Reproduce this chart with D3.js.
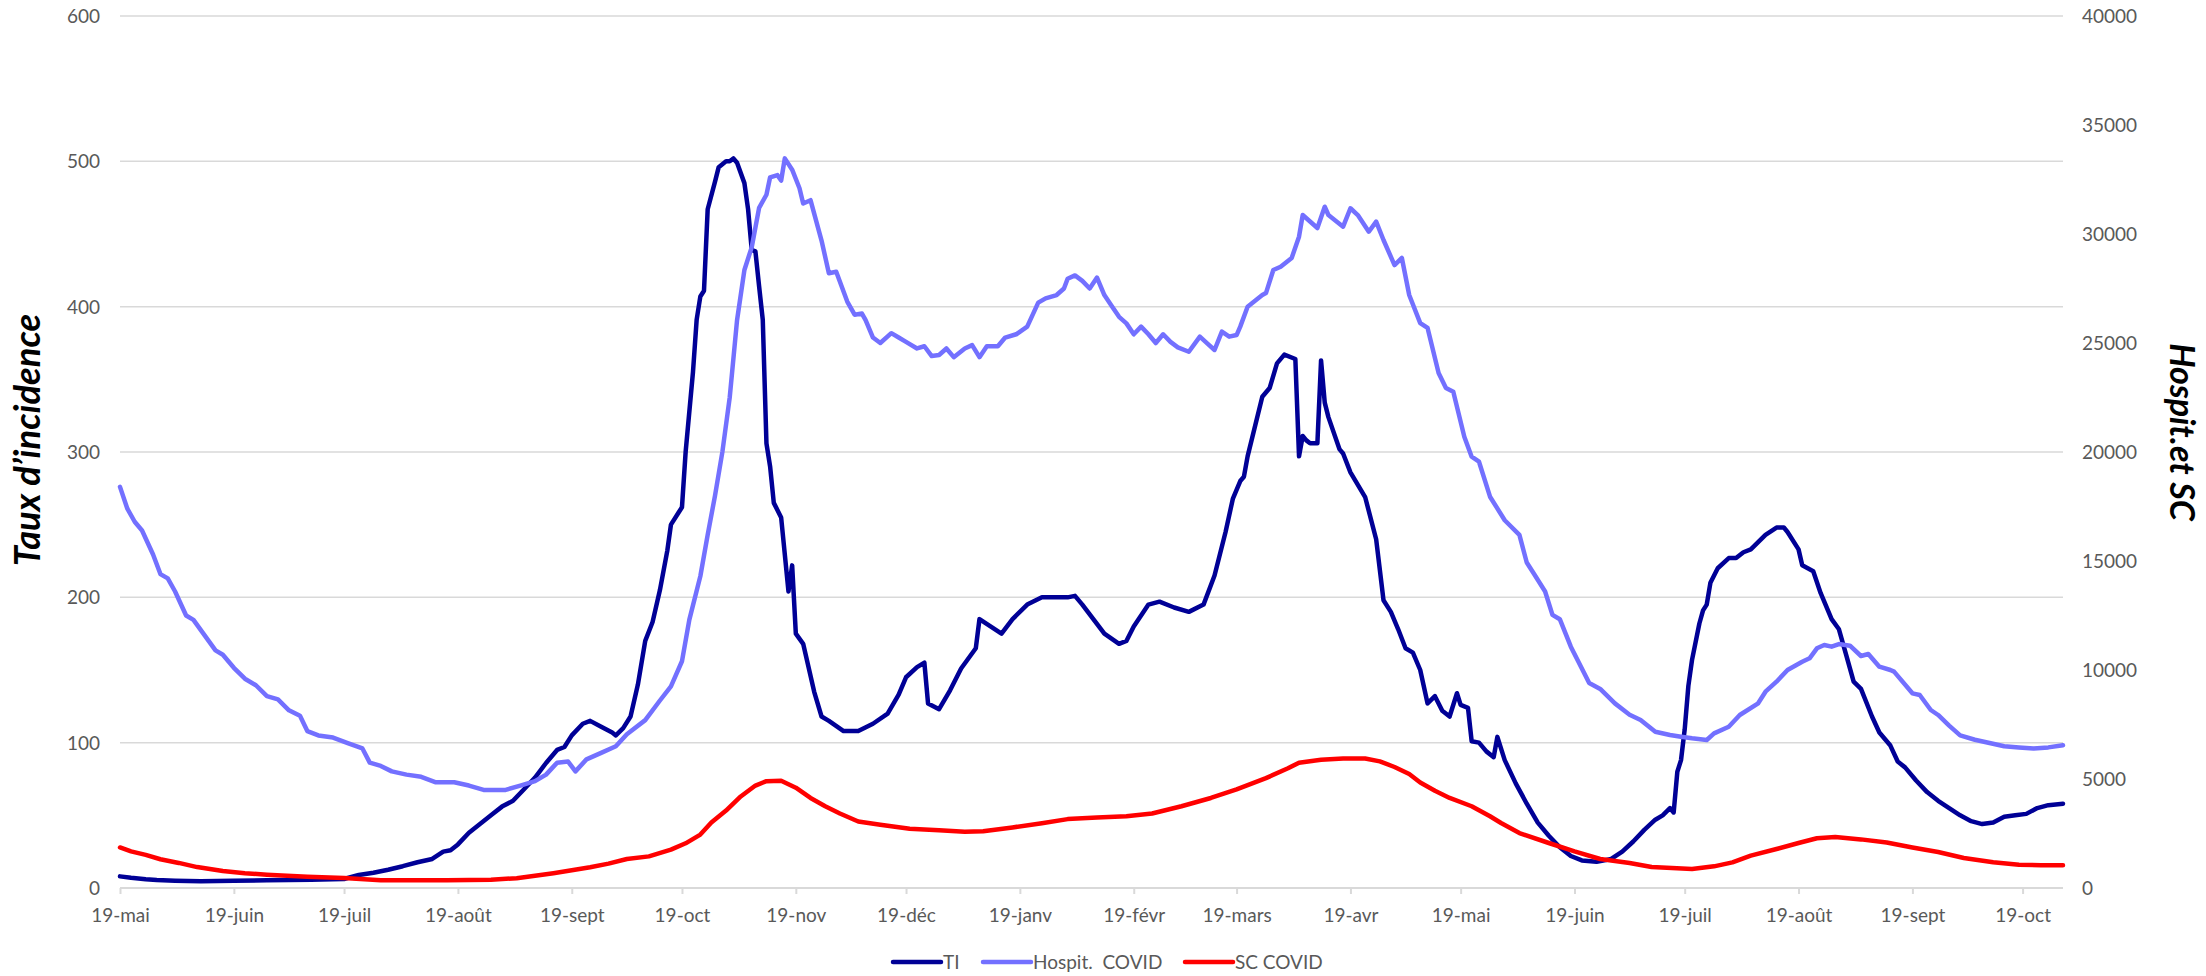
<!DOCTYPE html>
<html>
<head>
<meta charset="utf-8">
<script src="https://cdn.jsdelivr.net/npm/d3@7"></script>
<style>
  html, body { margin: 0; padding: 0; background: #ffffff; }
  svg { display: block; font-family: Lato, "Open Sans", sans-serif; }
</style>
</head>
<body>
<svg id="chart" width="2206" height="976"></svg>
<script>
// Monthly axis ticks (the 19th of each month)
const tickDates = ["2020-05-19","2020-06-19","2020-07-19","2020-08-19","2020-09-19","2020-10-19",
  "2020-11-19","2020-12-19","2021-01-19","2021-02-19","2021-03-19","2021-04-19",
  "2021-05-19","2021-06-19","2021-07-19","2021-08-19","2021-09-19","2021-10-19"];
const tickLabels = ["19-mai","19-juin","19-juil","19-août","19-sept","19-oct",
  "19-nov","19-déc","19-janv","19-févr","19-mars","19-avr",
  "19-mai","19-juin","19-juil","19-août","19-sept","19-oct"];
const leftTicks = [0, 100, 200, 300, 400, 500, 600];
const rightTicks = [0, 5000, 10000, 15000, 20000, 25000, 30000, 35000, 40000];
const dateRange = ["2020-05-19", "2021-10-30"];

// Taux d'incidence (left axis)
const tiSeries = [
  ["2020-05-19",8],["2020-05-22",7],["2020-05-26",6],["2020-05-29",5.5],["2020-06-03",5],["2020-06-10",4.6],
  ["2020-06-19",5],["2020-06-28",5.3],["2020-07-10",5.7],["2020-07-19",6.2],["2020-07-23",9],["2020-07-27",10.5],
  ["2020-07-31",12.6],["2020-08-04",15],["2020-08-08",17.7],["2020-08-12",20],["2020-08-15",25],["2020-08-17",26],
  ["2020-08-19",30],["2020-08-22",38],["2020-08-25",44],["2020-08-28",50],["2020-08-31",56],["2020-09-03",60],
  ["2020-09-06",68],["2020-09-09",76],["2020-09-12",86],["2020-09-15",95],["2020-09-17",97],["2020-09-19",105],
  ["2020-09-22",113],["2020-09-24",115],["2020-09-27",111],["2020-09-30",107],["2020-10-01",105],["2020-10-03",110],
  ["2020-10-05",118],["2020-10-07",140],["2020-10-09",170],["2020-10-11",183],["2020-10-13",205],["2020-10-15",232],
  ["2020-10-16",250],["2020-10-18",258],["2020-10-19",262],["2020-10-20",300],["2020-10-22",355],["2020-10-23",391],
  ["2020-10-24",407],["2020-10-25",411],["2020-10-26",467],["2020-10-28",486],["2020-10-29",496],["2020-10-31",500],
  ["2020-11-01",500],["2020-11-02",502],["2020-11-03",499],["2020-11-05",485],["2020-11-06",467],["2020-11-07",439],
  ["2020-11-08",438],["2020-11-09",414],["2020-11-10",391],["2020-11-11",306],["2020-11-12",290],["2020-11-13",265],
  ["2020-11-15",255],["2020-11-17",204],["2020-11-18",222],["2020-11-19",175],["2020-11-21",168],["2020-11-24",135],
  ["2020-11-26",118],["2020-11-28",115],["2020-12-02",108],["2020-12-06",108],["2020-12-10",113],["2020-12-14",120],
  ["2020-12-17",133],["2020-12-19",145],["2020-12-22",152],["2020-12-24",155],["2020-12-25",127],["2020-12-28",123],
  ["2020-12-31",136],["2021-01-03",151],["2021-01-07",165],["2021-01-08",185],["2021-01-11",180],["2021-01-14",175],
  ["2021-01-17",185],["2021-01-21",195],["2021-01-25",200],["2021-02-01",200],["2021-02-03",201],["2021-02-05",195],
  ["2021-02-08",185],["2021-02-11",175],["2021-02-15",168],["2021-02-17",170],["2021-02-19",180],["2021-02-23",195],
  ["2021-02-26",197],["2021-03-02",193],["2021-03-06",190],["2021-03-10",195],["2021-03-13",215],["2021-03-16",245],
  ["2021-03-18",268],["2021-03-20",280],["2021-03-21",283],["2021-03-22",297],["2021-03-26",338],["2021-03-28",344],
  ["2021-03-30",361],["2021-04-01",367],["2021-04-04",364],["2021-04-05",297],["2021-04-06",311],["2021-04-07",308],
  ["2021-04-08",306],["2021-04-10",306],["2021-04-11",363],["2021-04-12",334],["2021-04-13",324],["2021-04-16",302],
  ["2021-04-17",299],["2021-04-19",286],["2021-04-23",269],["2021-04-26",240],["2021-04-28",198],["2021-04-30",190],
  ["2021-05-02",178],["2021-05-04",165],["2021-05-06",162],["2021-05-08",150],["2021-05-10",127],["2021-05-12",132],
  ["2021-05-14",122],["2021-05-16",118],["2021-05-18",134],["2021-05-19",126],["2021-05-21",124],["2021-05-22",101],
  ["2021-05-24",100],["2021-05-26",94],["2021-05-28",90],["2021-05-29",104],["2021-05-31",88],["2021-06-03",72],
  ["2021-06-06",58],["2021-06-09",45],["2021-06-12",36],["2021-06-15",28],["2021-06-18",22],["2021-06-21",19],
  ["2021-06-25",18],["2021-06-29",20],["2021-07-02",25],["2021-07-05",32],["2021-07-08",40],["2021-07-11",47],
  ["2021-07-13",50],["2021-07-15",55],["2021-07-16",52],["2021-07-17",80],["2021-07-18",88],["2021-07-19",109],
  ["2021-07-20",139],["2021-07-21",157],["2021-07-23",182],["2021-07-24",191],["2021-07-25",195],["2021-07-26",210],
  ["2021-07-28",220],["2021-07-31",227],["2021-08-02",227],["2021-08-04",231],["2021-08-06",233],["2021-08-08",238],
  ["2021-08-10",243],["2021-08-13",248],["2021-08-15",248],["2021-08-16",245],["2021-08-19",233],["2021-08-20",222],
  ["2021-08-23",218],["2021-08-25",203],["2021-08-28",185],["2021-08-30",178],["2021-09-01",160],["2021-09-03",142],
  ["2021-09-05",137],["2021-09-08",118],["2021-09-10",107],["2021-09-13",98],["2021-09-15",87],["2021-09-17",83],
  ["2021-09-20",74],["2021-09-23",66],["2021-09-26",60],["2021-09-29",55],["2021-10-02",50],["2021-10-05",46],
  ["2021-10-08",44],["2021-10-11",45],["2021-10-14",49],["2021-10-17",50],["2021-10-20",51],["2021-10-23",55],
  ["2021-10-26",57],["2021-10-30",58]
];

// Hospitalisations COVID (right axis)
const hospSeries = [
  ["2020-05-19",18400],["2020-05-21",17400],["2020-05-23",16800],["2020-05-25",16400],["2020-05-28",15300],
  ["2020-05-30",14400],["2020-06-01",14200],["2020-06-03",13600],["2020-06-06",12500],["2020-06-08",12300],
  ["2020-06-11",11600],["2020-06-14",10900],["2020-06-16",10700],["2020-06-19",10100],["2020-06-22",9600],
  ["2020-06-25",9300],["2020-06-28",8800],["2020-07-01",8650],["2020-07-04",8150],["2020-07-07",7900],
  ["2020-07-09",7200],["2020-07-12",7000],["2020-07-16",6900],["2020-07-20",6650],["2020-07-24",6400],
  ["2020-07-26",5750],["2020-07-29",5600],["2020-08-01",5350],["2020-08-05",5200],["2020-08-09",5100],
  ["2020-08-13",4850],["2020-08-18",4850],["2020-08-22",4700],["2020-08-26",4500],["2020-09-01",4500],
  ["2020-09-05",4700],["2020-09-09",4900],["2020-09-12",5200],["2020-09-15",5750],["2020-09-18",5800],
  ["2020-09-20",5350],["2020-09-23",5900],["2020-09-27",6200],["2020-10-01",6500],["2020-10-04",7050],
  ["2020-10-09",7700],["2020-10-13",8600],["2020-10-16",9250],["2020-10-19",10400],["2020-10-21",12300],
  ["2020-10-24",14300],["2020-10-26",16200],["2020-10-28",18000],["2020-10-30",20000],["2020-11-01",22500],
  ["2020-11-03",26050],["2020-11-05",28350],["2020-11-07",29400],["2020-11-09",31200],["2020-11-11",31800],
  ["2020-11-12",32600],["2020-11-14",32700],["2020-11-15",32450],["2020-11-16",33470],["2020-11-18",32950],
  ["2020-11-20",32100],["2020-11-21",31400],["2020-11-23",31550],["2020-11-26",29700],["2020-11-28",28200],
  ["2020-11-30",28270],["2020-12-03",26900],["2020-12-05",26300],["2020-12-07",26350],["2020-12-08",26050],
  ["2020-12-10",25250],["2020-12-12",25000],["2020-12-15",25450],["2020-12-17",25250],["2020-12-19",25050],
  ["2020-12-22",24750],["2020-12-24",24850],["2020-12-26",24400],["2020-12-28",24450],["2020-12-30",24750],
  ["2021-01-01",24350],["2021-01-04",24750],["2021-01-06",24900],["2021-01-08",24350],["2021-01-10",24850],
  ["2021-01-13",24850],["2021-01-15",25250],["2021-01-18",25400],["2021-01-21",25750],["2021-01-24",26850],
  ["2021-01-26",27050],["2021-01-29",27200],["2021-01-31",27500],["2021-02-01",27950],["2021-02-03",28100],
  ["2021-02-05",27850],["2021-02-07",27500],["2021-02-09",28000],["2021-02-11",27200],["2021-02-13",26700],
  ["2021-02-15",26200],["2021-02-17",25900],["2021-02-19",25400],["2021-02-21",25750],["2021-02-23",25400],
  ["2021-02-25",25000],["2021-02-27",25400],["2021-03-01",25050],["2021-03-03",24800],["2021-03-06",24600],
  ["2021-03-09",25290],["2021-03-11",24985],["2021-03-13",24680],["2021-03-15",25520],["2021-03-17",25290],
  ["2021-03-19",25365],["2021-03-20",25750],["2021-03-22",26665],["2021-03-26",27200],["2021-03-27",27290],
  ["2021-03-29",28350],["2021-03-31",28500],["2021-04-03",28900],["2021-04-05",29875],["2021-04-06",30870],
  ["2021-04-10",30275],["2021-04-12",31250],["2021-04-13",30870],["2021-04-17",30335],["2021-04-19",31180],
  ["2021-04-21",30870],["2021-04-24",30105],["2021-04-26",30565],["2021-04-28",29725],["2021-05-01",28575],
  ["2021-05-03",28900],["2021-05-05",27200],["2021-05-08",25915],["2021-05-10",25690],["2021-05-13",23620],
  ["2021-05-15",22935],["2021-05-17",22765],["2021-05-20",20700],["2021-05-22",19785],["2021-05-24",19555],
  ["2021-05-27",17950],["2021-05-31",16870],["2021-06-04",16200],["2021-06-06",14930],["2021-06-08",14400],
  ["2021-06-11",13600],["2021-06-13",12530],["2021-06-15",12330],["2021-06-18",11070],["2021-06-20",10400],
  ["2021-06-23",9400],["2021-06-26",9130],["2021-06-30",8470],["2021-07-04",7950],["2021-07-07",7706],
  ["2021-07-11",7170],["2021-07-15",7018],["2021-07-18",6940],["2021-07-21",6867],["2021-07-25",6789],
  ["2021-07-27",7095],["2021-07-31",7400],["2021-08-03",7936],["2021-08-08",8472],["2021-08-10",9005],
  ["2021-08-13",9463],["2021-08-16",10000],["2021-08-20",10380],["2021-08-22",10536],["2021-08-24",10995],
  ["2021-08-26",11146],["2021-08-28",11070],["2021-08-30",11192],["2021-09-02",11116],["2021-09-05",10642],
  ["2021-09-07",10734],["2021-09-10",10152],["2021-09-13",10000],["2021-09-14",9924],["2021-09-19",8930],
  ["2021-09-21",8853],["2021-09-24",8165],["2021-09-26",7936],["2021-09-29",7450],["2021-10-02",7000],
  ["2021-10-06",6800],["2021-10-10",6650],["2021-10-14",6500],["2021-10-18",6450],["2021-10-22",6400],
  ["2021-10-26",6450],["2021-10-30",6550]
];

// Soins critiques COVID (right axis)
const scSeries = [
  ["2020-05-19",1860],["2020-05-22",1680],["2020-05-26",1520],["2020-05-30",1320],["2020-06-04",1150],
  ["2020-06-09",960],["2020-06-16",780],["2020-06-22",680],["2020-06-28",612],["2020-07-09",520],
  ["2020-07-19",459],["2020-07-29",360],["2020-08-08",350],["2020-08-16",352],["2020-08-28",382],
  ["2020-09-04",450],["2020-09-09",566],["2020-09-14",680],["2020-09-19",810],["2020-09-24",950],
  ["2020-09-29",1120],["2020-10-04",1330],["2020-10-10",1450],["2020-10-16",1758],["2020-10-20",2050],
  ["2020-10-24",2450],["2020-10-27",3000],["2020-10-31",3550],["2020-11-04",4200],["2020-11-08",4700],
  ["2020-11-11",4900],["2020-11-15",4920],["2020-11-19",4600],["2020-11-23",4130],["2020-11-27",3750],
  ["2020-12-01",3420],["2020-12-06",3050],["2020-12-12",2900],["2020-12-20",2720],["2020-12-28",2650],
  ["2021-01-04",2580],["2021-01-09",2600],["2021-01-17",2780],["2021-01-25",2970],["2021-02-01",3160],
  ["2021-02-09",3230],["2021-02-17",3290],["2021-02-24",3420],["2021-03-04",3750],["2021-03-12",4130],
  ["2021-03-19",4520],["2021-03-27",5040],["2021-04-02",5490],["2021-04-05",5750],["2021-04-11",5880],
  ["2021-04-17",5940],["2021-04-23",5940],["2021-04-27",5810],["2021-05-01",5550],["2021-05-05",5230],
  ["2021-05-08",4840],["2021-05-12",4460],["2021-05-16",4130],["2021-05-22",3750],["2021-05-27",3290],
  ["2021-05-30",2980],["2021-06-04",2520],["2021-06-12",2064],["2021-06-19",1682],["2021-06-26",1330],
  ["2021-07-04",1147],["2021-07-10",963],["2021-07-21",872],["2021-07-27",994],["2021-08-01",1177],
  ["2021-08-06",1483],["2021-08-13",1789],["2021-08-19",2064],["2021-08-24",2280],["2021-08-29",2340],
  ["2021-09-05",2230],["2021-09-12",2090],["2021-09-19",1860],["2021-09-26",1651],["2021-10-03",1376],
  ["2021-10-11",1177],["2021-10-18",1070],["2021-10-24",1040],["2021-10-30",1045]
];

const parse = d3.utcParse("%Y-%m-%d");
const toPoints = s => s.map(([d, v]) => ({ date: parse(d), value: v }));

const svg = d3.select("#chart");
const plot = { left: 120, right: 2063, top: 16, bottom: 888 };

const x = d3.scaleUtc().domain(dateRange.map(parse)).range([plot.left, plot.right]);
const yLeft = d3.scaleLinear().domain([0, 600]).range([plot.bottom, plot.top]);
const yRight = d3.scaleLinear().domain([0, 40000]).range([plot.bottom, plot.top]);

const gridColor = "#d9d9d9";
const textColor = "#595959";

// Horizontal gridlines on the left-axis ticks
svg.append("g").selectAll("line")
  .data(leftTicks.filter(v => v > 0))
  .join("line")
  .attr("x1", plot.left).attr("x2", plot.right)
  .attr("y1", d => yLeft(d)).attr("y2", d => yLeft(d))
  .attr("stroke", gridColor).attr("stroke-width", 1.5);

// Bottom date axis
const xAxis = d3.axisBottom(x)
  .tickValues(tickDates.map(parse))
  .tickFormat((d, i) => tickLabels[i])
  .tickSize(6).tickPadding(15);
const gx = svg.append("g").attr("transform", `translate(0,${plot.bottom})`).call(xAxis);
gx.select(".domain").attr("stroke", gridColor).attr("stroke-width", 2)
  .attr("d", `M${plot.left},0H${plot.right}`);
gx.selectAll(".tick line").attr("stroke", gridColor).attr("stroke-width", 2);
gx.selectAll(".tick text").attr("fill", textColor)
  .style("font-size", "19px").style("font-family", "Lato, sans-serif");

// Left value labels
svg.append("g").selectAll("text")
  .data(leftTicks).join("text")
  .attr("x", 100).attr("y", d => yLeft(d)).attr("dy", "0.36em")
  .attr("text-anchor", "end").attr("fill", textColor)
  .style("font-size", "19px").text(d => d);

// Right value labels
svg.append("g").selectAll("text")
  .data(rightTicks).join("text")
  .attr("x", 2082).attr("y", d => yRight(d)).attr("dy", "0.36em")
  .attr("text-anchor", "start").attr("fill", textColor)
  .style("font-size", "19px").text(d => d);

// Axis titles, sized so each spans its intended length
function axisTitle(label, cx, cy, angle, span, maxSize) {
  const t = svg.append("text")
    .attr("transform", `translate(${cx},${cy}) rotate(${angle})`)
    .attr("text-anchor", "middle")
    .style("font-size", "30px").style("font-weight", "bold").style("font-style", "italic")
    .attr("fill", "#000").text(label);
  const w = t.node().getComputedTextLength();
  if (w > 0) t.style("font-size", Math.min(maxSize, 30 * span / w).toFixed(1) + "px");
  return t;
}
axisTitle("Taux d’incidence", 40, 440, -90, 252, 38);
axisTitle("Hospit.et SC", 2170, 432, 90, 190, 34);

// Series
const series = [
  { name: "TI", data: toPoints(tiSeries), y: yLeft, color: "#000096" },
  { name: "Hospit.  COVID", data: toPoints(hospSeries), y: yRight, color: "#7370ff" },
  { name: "SC COVID", data: toPoints(scSeries), y: yRight, color: "#ff0000" }
];

series.forEach(s => {
  const line = d3.line().x(d => x(d.date)).y(d => s.y(d.value));
  svg.append("path")
    .datum(s.data)
    .attr("d", line)
    .attr("fill", "none")
    .attr("stroke", s.color)
    .attr("stroke-width", 4.5)
    .attr("stroke-linejoin", "round")
    .attr("stroke-linecap", "round");
});

// Legend
const legendPos = [893, 983, 1185];
const legend = svg.append("g");
series.forEach((s, i) => {
  const lx = legendPos[i];
  legend.append("line")
    .attr("x1", lx).attr("x2", lx + 48).attr("y1", 962).attr("y2", 962)
    .attr("stroke", s.color).attr("stroke-width", 4.5).attr("stroke-linecap", "round");
  legend.append("text")
    .attr("x", lx + 50).attr("y", 962).attr("dy", "0.36em")
    .attr("fill", textColor).style("font-size", "19px")
    .style("white-space", "pre").attr("xml:space", "preserve")
    .text(s.name);
});
</script>
</body>
</html>
